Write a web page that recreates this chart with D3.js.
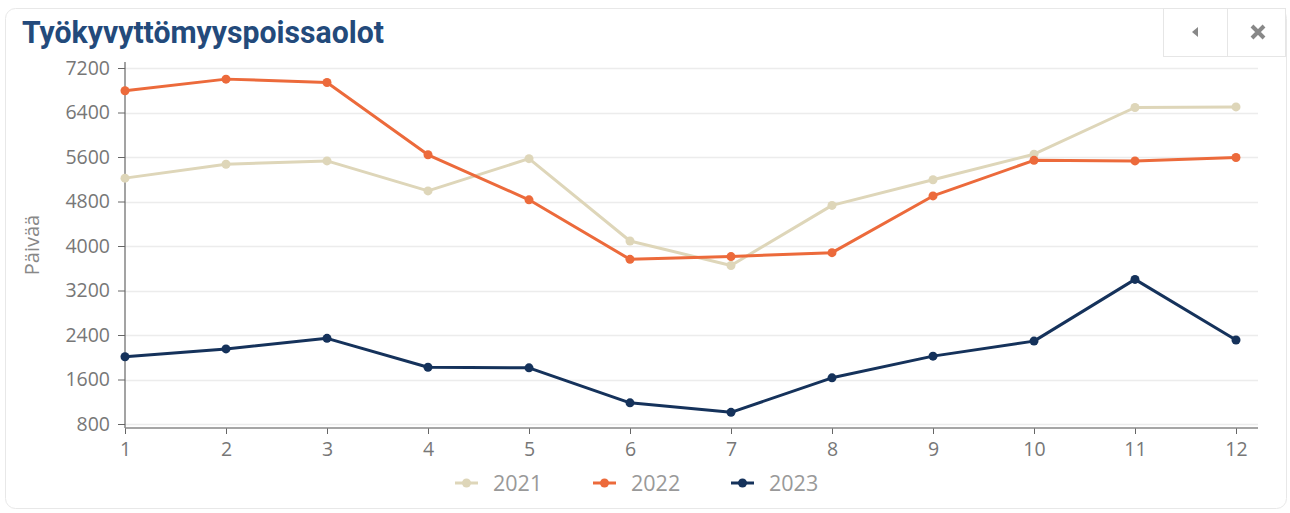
<!DOCTYPE html>
<html>
<head>
<meta charset="utf-8">
<script src="https://cdn.jsdelivr.net/npm/d3@7"></script>
<style>
  html, body { margin: 0; padding: 0; background: #ffffff; }
  svg { display: block; }
</style>
</head>
<body>
<div id="chart"></div>
<script>
// Monthly sick-leave days (disability absences) per year
const months = [1, 2, 3, 4, 5, 6, 7, 8, 9, 10, 11, 12];
const years = ["2021", "2022", "2023"];
const values2021 = [5220, 5470, 5530, 4990, 5570, 4090, 3650, 4730, 5190, 5650, 6490, 6500];
const values2022 = [6790, 7000, 6940, 5640, 4830, 3760, 3810, 3880, 4900, 5540, 5530, 5590];
const values2023 = [2010, 2150, 2340, 1820, 1810, 1180, 1010, 1630, 2020, 2290, 3400, 2310];
const yTicks = [800, 1600, 2400, 3200, 4000, 4800, 5600, 6400, 7200];
const colors = ["#ded6b9", "#ec6a3b", "#15325b"];

const W = 1290, H = 513;
const svg = d3.select("#chart").append("svg").attr("width", W).attr("height", H);

// Card frame
svg.append("rect").attr("x", 5.5).attr("y", 8.5).attr("width", 1281).attr("height", 500)
  .attr("rx", 10).attr("fill", "#fff").attr("stroke", "#e8e8e8");

// Title
svg.append("text").attr("x", 22).attr("y", 43)
  .attr("font-family", "Roboto, sans-serif").attr("font-weight", 700)
  .attr("font-size", 31).attr("fill", "#234a7b")
  .attr("textLength", 362).attr("lengthAdjust", "spacingAndGlyphs")
  .text("Työkyvyttömyyspoissaolot");

// Toolbar buttons
const tb = svg.append("g");
tb.append("rect").attr("x", 1163.5).attr("y", 8.5).attr("width", 122).attr("height", 48)
  .attr("fill", "#fff").attr("stroke", "#e6e6e6");
tb.append("line").attr("x1", 1227.5).attr("x2", 1227.5).attr("y1", 8).attr("y2", 57).attr("stroke", "#e6e6e6");
tb.append("path").attr("d", "M1198,27 L1198,37 L1192,32 Z").attr("fill", "#888");
tb.append("path").attr("d", "M1252,26 L1264,38 M1264,26 L1252,38")
  .attr("stroke", "#888").attr("stroke-width", 4);

// Scales
const x = d3.scaleLinear().domain([1, 12]).range([125, 1236]);
const y = d3.scaleLinear().domain([800, 7200]).range([424, 68]);
const plotLeft = 125, plotRight = 1258, plotTop = 62, plotBottom = 428;

// Grid lines
svg.append("g").selectAll("line").data(yTicks).join("line")
  .attr("x1", plotLeft).attr("x2", plotRight)
  .attr("y1", d => Math.round(y(d)) + 0.5).attr("y2", d => Math.round(y(d)) + 0.5)
  .attr("stroke", "#ececec").attr("stroke-width", 1.5);

const tickFont = "'Open Sans', sans-serif";

// Y axis
const yAxis = svg.append("g").attr("transform", `translate(${plotLeft},0)`)
  .call(d3.axisLeft(y).tickValues(yTicks).tickFormat(d3.format("d"))
    .tickSize(7).tickPadding(8).tickSizeOuter(0));
yAxis.select(".domain").remove();
yAxis.append("line").attr("x1", 0).attr("x2", 0).attr("y1", plotTop).attr("y2", plotBottom)
  .attr("stroke", "#666").attr("stroke-width", 1.2);
yAxis.selectAll(".tick line").attr("stroke", "#666");
yAxis.selectAll(".tick text").attr("font-family", tickFont).attr("font-size", 19.5)
  .attr("fill", "#777");

// X axis
const xAxis = svg.append("g").attr("transform", `translate(0,${plotBottom})`)
  .call(d3.axisBottom(x).tickValues(months).tickFormat(d3.format("d"))
    .tickSize(6).tickPadding(8).tickSizeOuter(0));
xAxis.select(".domain").remove();
xAxis.append("line").attr("x1", plotLeft).attr("x2", plotRight).attr("y1", 0).attr("y2", 0)
  .attr("stroke", "#888").attr("stroke-width", 1.5);
xAxis.selectAll(".tick line").attr("stroke", "#666");
xAxis.selectAll(".tick text").attr("font-family", tickFont).attr("font-size", 19.5)
  .attr("fill", "#777");

// Y axis title
svg.append("text").attr("transform", "translate(39,245) rotate(-90)")
  .attr("text-anchor", "middle").attr("font-family", tickFont).attr("font-size", 20)
  .attr("fill", "#888").text("Päivää");

// Series
const series = [values2021, values2022, values2023].map((v, i) => ({
  name: years[i], color: colors[i], pts: v.map((val, j) => ({ m: months[j], v: val }))
}));
const line = d3.line().x(d => x(d.m)).y(d => y(d.v));
const sg = svg.append("g").selectAll("g").data(series).join("g");
sg.append("path").attr("d", d => line(d.pts)).attr("fill", "none")
  .attr("stroke", d => d.color).attr("stroke-width", 3).attr("stroke-linejoin", "round");
sg.each(function (d) {
  d3.select(this).selectAll("circle").data(d.pts).join("circle")
    .attr("cx", p => x(p.m)).attr("cy", p => y(p.v)).attr("r", 4.5).attr("fill", d.color);
});

// Legend
const legendX = [455, 593, 731];
const lg = svg.append("g").selectAll("g").data(series).join("g")
  .attr("transform", (d, i) => `translate(${legendX[i]},483)`);
lg.append("line").attr("x1", 0).attr("x2", 23).attr("stroke", d => d.color).attr("stroke-width", 3);
lg.append("circle").attr("cx", 11.5).attr("r", 4.5).attr("fill", d => d.color);
lg.append("text").attr("x", 38).attr("y", 7.5).attr("font-family", tickFont).attr("font-size", 21.5)
  .attr("fill", "#999").text(d => d.name);
</script>
</body>
</html>
